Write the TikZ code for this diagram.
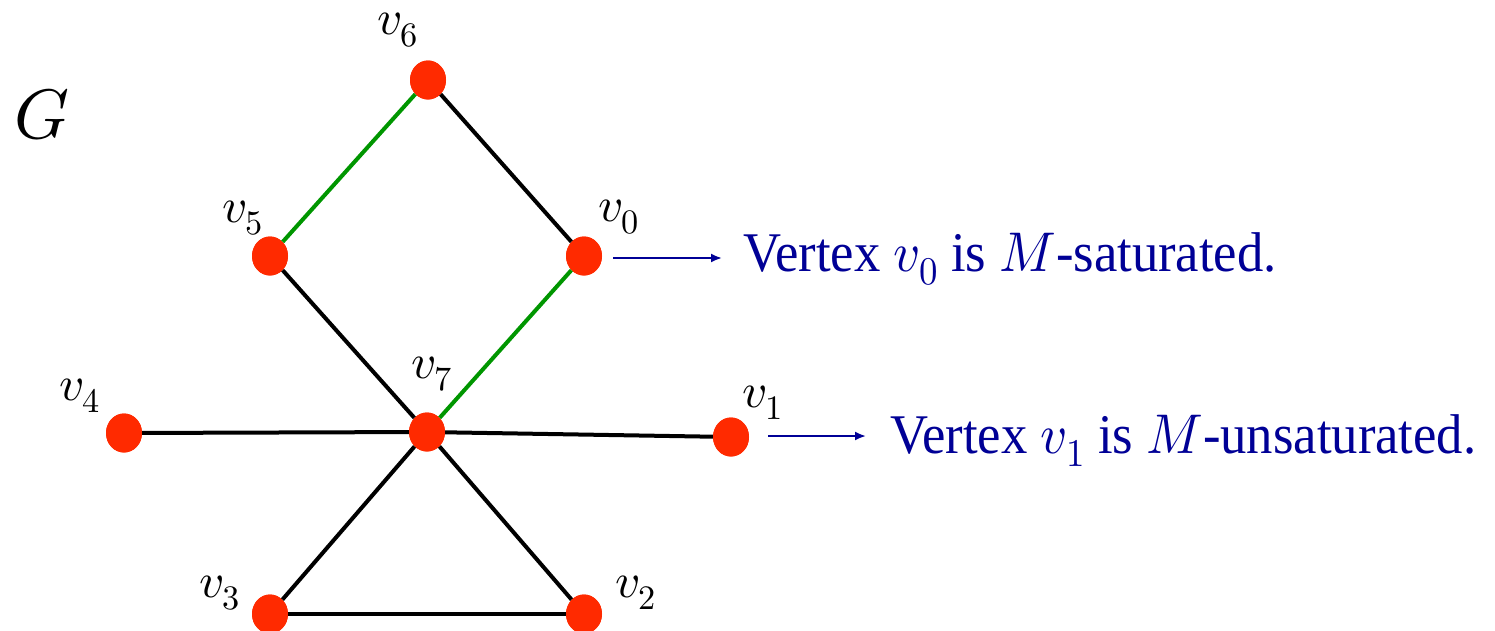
\documentclass[tikz,border=0pt]{standalone}
\usepackage{fontspec}
\usepackage{unicode-math}
\setmainfont{Liberation Serif}
\setmathfont{Latin Modern Math}
\usetikzlibrary{shapes.geometric,arrows.meta}
\definecolor{vred}{RGB}{255,42,0}
\definecolor{mgreen}{RGB}{0,150,0}
\definecolor{tblue}{RGB}{0,0,150}
\newcommand{\narrow}[1]{\scalebox{0.94}[1]{#1}}
\tikzset{
  vert/.style={ellipse,fill=vred,minimum width=36pt,minimum height=39pt,inner sep=0pt},
  edg/.style={line width=4pt,black},
  medg/.style={line width=4pt,mgreen},
  vlab/.style={anchor=base west,inner sep=0pt,font=\fontsize{49}{54}\selectfont},
  arr/.style={tblue,line width=2pt,-{Latex[length=11pt,width=9pt]}},
  note/.style={anchor=base west,inner sep=0pt,text=tblue,font=\fontsize{56}{60}\selectfont}
}
\begin{document}
\begin{tikzpicture}[x=1pt,y=-1pt]
\useasboundingbox (0,0) rectangle (1495,630);
\node[vert] (v6) at (428,80) {};
\node[vert] (v5) at (270,256) {};
\node[vert] (v0) at (584,256) {};
\node[vert] (v7) at (427,432) {};
\node[vert] (v4) at (124,433) {};
\node[vert] (v1) at (731,437) {};
\node[vert] (v3) at (270,614) {};
\node[vert] (v2) at (584,614) {};
\draw[medg] (v6) -- (v5);
\draw[edg] (v6) -- (v0);
\draw[edg] (v5) -- (v7);
\draw[medg] (v0) -- (v7);
\draw[edg] (v4) -- (v7);
\draw[edg] (v7) -- (v1);
\draw[edg] (v7) -- (v3);
\draw[edg] (v7) -- (v2);
\draw[edg] (v3) -- (v2);
\foreach \n in {v6,v5,v0,v7,v4,v1,v3,v2} \node[vert] at (\n) {};
\node[vlab] (l6) at (377,34) {$v_6$};
\node[vlab] (l5) at (222,222) {$v_5$};
\node[vlab] (l0) at (598,221) {$v_0$};
\node[vlab] (l7) at (411,378) {$v_7$};
\node[vlab] (l4) at (59,400) {$v_4$};
\node[vlab] (l1) at (742,407) {$v_1$};
\node[vlab] (l3) at (199,597) {$v_3$};
\node[vlab] (l2) at (615,597) {$v_2$};
\node[anchor=base west,inner sep=0pt,font=\fontsize{70}{76}\selectfont] (G) at (14,138) {$G$};
\node[note] (t0) at (743,271) {\narrow{Vertex $v_0$ is $M$-saturated.}};
\node[note] (t1) at (890,453) {\narrow{Vertex $v_1$ is $M$-unsaturated.}};
\coordinate (a0s) at (613,258);
\coordinate (a0e) at (722,258);
\coordinate (a1s) at (768,436);
\coordinate (a1e) at (866,436);
\draw[arr] (a0s) -- (a0e);
\draw[arr] (a1s) -- (a1e);
\end{tikzpicture}
\end{document}
